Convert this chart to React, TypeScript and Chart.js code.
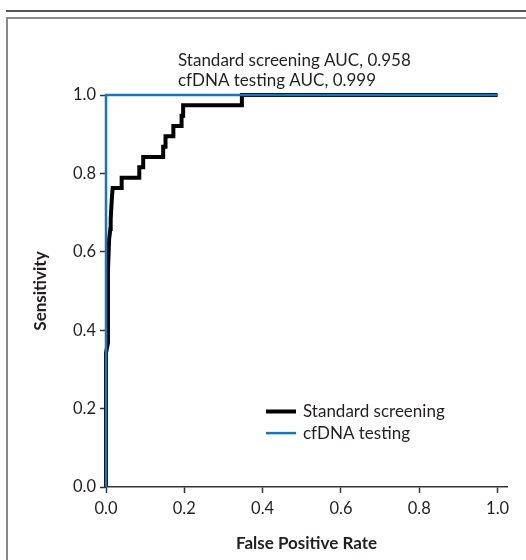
import React, { useEffect, useRef } from "react";
import { Chart, registerables } from "chart.js";

Chart.register(...registerables);

// ---- data ----
const seriesLabels = ["Standard screening", "cfDNA testing"];
const standardFpr = [0, 0, 0.005, 0.005, 0.008, 0.011, 0.012, 0.015, 0.017, 0.04, 0.04, 0.085, 0.085, 0.095, 0.095, 0.146, 0.146, 0.152, 0.152, 0.172, 0.172, 0.193, 0.193, 0.197, 0.197, 0.347, 0.347, 1];
const standardTpr = [0, 0.342, 0.368, 0.553, 0.632, 0.658, 0.684, 0.737, 0.763, 0.763, 0.789, 0.789, 0.816, 0.816, 0.842, 0.842, 0.868, 0.868, 0.895, 0.895, 0.921, 0.921, 0.947, 0.947, 0.974, 0.974, 1, 1];
const cfdnaFpr = [0, 0, 1];
const cfdnaTpr = [0, 1, 1];
const aucLines = ["Standard screening AUC, 0.958", "cfDNA testing AUC, 0.999"];
const xTickValues = [0, 0.2, 0.4, 0.6, 0.8, 1.0];
const yTickValues = [0, 0.2, 0.4, 0.6, 0.8, 1.0];
const xTitle = "False Positive Rate";
const yTitle = "Sensitivity";

const BLACK = "#000000";
const BLUE = "#1b75bb";
const AXIS = "#333333";
const TEXT = "#231f20";
const FONT = 'Lato, "Open Sans", sans-serif';
const SIZE = 17;
const TICK_SIZE = 16.5;

const toPoints = (xs: number[], ys: number[]) => xs.map((x, i) => ({ x, y: ys[i] }));

const overlayPlugin = {
  id: "overlay",
  afterDraw(chart: any) {
    const ctx = chart.ctx as CanvasRenderingContext2D;
    ctx.save();
    ctx.fillStyle = TEXT;
    ctx.font = `${SIZE}px ${FONT}`;
    ctx.textBaseline = "middle";
    ctx.textAlign = "left";
    aucLines.forEach((t, i) => ctx.fillText(t, 178, 61 + i * 20));

    // legend: standard screening first, then cfDNA
    const ds = chart.data.datasets;
    const legendOrder = [1, 0];
    legendOrder.forEach((di, row) => {
      const d = ds[di];
      const y = 411.5 + row * 21.6;
      ctx.strokeStyle = d.borderColor;
      ctx.lineWidth = d.borderWidth;
      ctx.lineCap = "butt";
      ctx.beginPath();
      ctx.moveTo(266, y);
      ctx.lineTo(296, y);
      ctx.stroke();
      ctx.fillStyle = TEXT;
      ctx.font = `${SIZE}px ${FONT}`;
      ctx.fillText(d.label, 303, y + 0.5);
    });
    ctx.restore();
  },
};

export default function App() {
  const ref = useRef<HTMLCanvasElement | null>(null);

  useEffect(() => {
    if (!ref.current) return;
    const chart = new Chart(ref.current, {
      type: "scatter",
      data: {
        datasets: [
          {
            label: seriesLabels[1],
            data: toPoints(cfdnaFpr, cfdnaTpr),
            showLine: true,
            borderColor: BLUE,
            backgroundColor: BLUE,
            borderWidth: 2.5,
            pointRadius: 0,
            tension: 0,
            clip: false as any,
          },
          {
            label: seriesLabels[0],
            data: toPoints(standardFpr, standardTpr),
            showLine: true,
            borderColor: BLACK,
            backgroundColor: BLACK,
            borderWidth: 4,
            pointRadius: 0,
            tension: 0,
            borderJoinStyle: "miter",
            clip: false as any,
          },
        ],
      },
      options: {
        responsive: false,
        animation: false,
        devicePixelRatio: 1,
        layout: { padding: { left: 0, right: 19, top: 95, bottom: 0 } },
        plugins: {
          legend: { display: false },
          tooltip: { enabled: false },
          title: { display: false },
        },
        scales: {
          x: {
            type: "linear",
            min: 0,
            max: 1.024,
            afterBuildTicks: (s: any) => {
              s.ticks = xTickValues.map((v) => ({ value: v }));
            },
            afterFit: (s: any) => {
              s.height = 73;
            },
            ticks: {
              callback: (v: any) => Number(v).toFixed(1),
              font: { family: FONT, size: TICK_SIZE },
              color: TEXT,
              padding: 6,
              maxRotation: 0,
              autoSkip: false,
            },
            grid: {
              display: true,
              drawOnChartArea: false,
              drawTicks: true,
              tickLength: 6,
              tickWidth: 1.5,
              tickColor: AXIS,
            },
            border: { display: true, color: AXIS, width: 1.5 },
            title: {
              display: true,
              text: xTitle,
              color: TEXT,
              font: { family: FONT, size: SIZE, weight: "bold" },
              padding: { top: 0, bottom: 6 },
            },
          },
          y: {
            type: "linear",
            min: 0,
            max: 1,
            afterBuildTicks: (s: any) => {
              s.ticks = yTickValues.map((v) => ({ value: v }));
            },
            afterFit: (s: any) => {
              s.width = 106;
            },
            ticks: {
              callback: (v: any) => Number(v).toFixed(1),
              font: { family: FONT, size: TICK_SIZE },
              color: TEXT,
              padding: 4,
              autoSkip: false,
            },
            grid: {
              display: true,
              drawOnChartArea: false,
              drawTicks: true,
              tickLength: 6,
              tickWidth: 1.5,
              tickColor: AXIS,
            },
            border: { display: true, color: AXIS, width: 1.5 },
            title: {
              display: true,
              text: yTitle,
              color: TEXT,
              font: { family: FONT, size: SIZE, weight: "bold" },
              padding: { top: 30, bottom: 0 },
            },
          },
        },
      },
      plugins: [overlayPlugin],
    });
    return () => chart.destroy();
  }, []);

  return (
    <div style={{ position: "absolute", left: 0, top: 0, width: 526, height: 560, overflow: "hidden", background: "#fff" }}>
      <div style={{ position: "absolute", left: 6, top: 10, width: 520, height: 2, background: "#555555" }} />
      <div
        style={{
          position: "absolute",
          left: 6,
          top: 17,
          width: 540,
          height: 560,
          borderLeft: "2px solid #8a8a8a",
          borderTop: "2px solid #8a8a8a",
        }}
      />
      <canvas ref={ref} width={526} height={560} style={{ position: "absolute", left: 0, top: 0 }} />
    </div>
  );
}
